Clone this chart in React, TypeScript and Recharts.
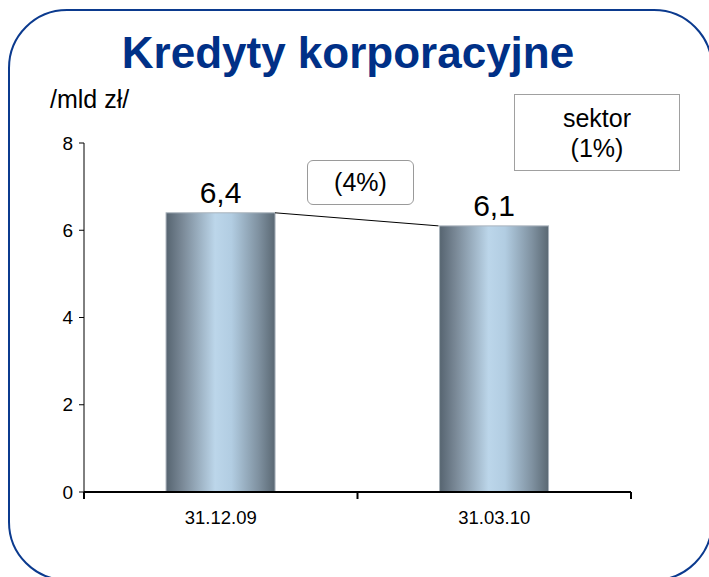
import { Bar, BarChart, LabelList, XAxis, YAxis } from "recharts";

const kategorie = ["31.12.09", "31.03.10"];
const wartosci = [6.4, 6.1];
const osY = [0, 2, 4, 6, 8];
const zmiana = "(4%)";
const sektor = ["sektor", "(1%)"];

const dane = kategorie.map((data, i) => ({ data, wartosc: wartosci[i] }));

const LUKA = 0.3;
const FONT = "'Liberation Sans', Arial, sans-serif";

function formatuj(v: number): string {
  return v.toFixed(1).replace(".", ",");
}

function Slupek(props: any) {
  const { x, y, width, height, index } = props;
  const krok = width / (1 - 2 * LUKA);
  const nastepna = wartosci[index + 1];
  return (
    <g>
      <rect x={x} y={y} width={width} height={height} fill="url(#walec)" stroke="#a9b3bc" strokeWidth={1} />
      {nastepna !== undefined && (
        <line
          x1={x + width}
          y1={y}
          x2={x + krok}
          y2={y + height - (nastepna / wartosci[index]) * height}
          stroke="#000"
          strokeWidth={1}
        />
      )}
    </g>
  );
}

function TickX(props: any) {
  const { x, y, payload, index } = props;
  const pol = payload.offset ?? 136.75;
  return (
    <g>
      <line x1={x + pol} y1={y} x2={x + pol} y2={y + 7} stroke="#000" strokeWidth={2} />
      {index === 0 && <line x1={x - pol} y1={y} x2={x - pol} y2={y + 7} stroke="#000" strokeWidth={2} />}
      <text x={x} y={y + 32} textAnchor="middle" fontSize={18.5} fontFamily={FONT} fill="#000">
        {payload.value}
      </text>
    </g>
  );
}

export default function App() {
  return (
    <div style={{ position: "absolute", left: 0, top: 0, width: 709, height: 577, overflow: "hidden", background: "#fff" }}>
      <svg width={709} height={577} style={{ position: "absolute", left: 0, top: 0 }}>
        <rect x={9} y={10} width={703} height={570} rx={58} ry={58} fill="none" stroke="#0b3a8e" strokeWidth={2} />
        <text x={348} y={68} textAnchor="middle" fontSize={44} fontWeight="bold" fontFamily={FONT} fill="#003087">
          Kredyty korporacyjne
        </text>
        <text x={50} y={108} fontSize={25} fontFamily={FONT} fill="#000">
          /mld zł/
        </text>
      </svg>

      <BarChart
        width={709}
        height={577}
        data={dane}
        margin={{ top: 143, right: 78, bottom: 55, left: 30 }}
        barCategoryGap={`${LUKA * 100}%`}
        style={{ position: "absolute", left: 0, top: 0 }}
      >
        <defs>
          <linearGradient id="walec" x1="0" y1="0" x2="1" y2="0">
            <stop offset="0%" stopColor="#566470" />
            <stop offset="15%" stopColor="#7a8997" />
            <stop offset="45%" stopColor="#bcd6ea" />
            <stop offset="60%" stopColor="#b2cde2" />
            <stop offset="85%" stopColor="#7f91a0" />
            <stop offset="100%" stopColor="#5a6873" />
          </linearGradient>
        </defs>
        <XAxis
          dataKey="data"
          height={30}
          axisLine={{ stroke: "#000", strokeWidth: 2 }}
          tickLine={false}
          tickSize={0}
          tickMargin={0}
          tick={<TickX />}
          interval={0}
        />
        <YAxis
          width={54}
          domain={[0, 8]}
          ticks={osY}
          interval={0}
          axisLine={{ stroke: "#000", strokeWidth: 1 }}
          tickLine={{ stroke: "#000" }}
          tickSize={5}
          tickMargin={6}
          tick={{ fontSize: 19, fontFamily: FONT, fill: "#000" }}
        />
        <Bar dataKey="wartosc" shape={<Slupek />} isAnimationActive={false}>
          <LabelList
            dataKey="wartosc"
            position="top"
            offset={10}
            formatter={(v: any) => formatuj(Number(v))}
            style={{ fontSize: 30, fontFamily: FONT, fill: "#000" }}
          />
        </Bar>
      </BarChart>

      <div
        style={{
          position: "absolute",
          left: 307,
          top: 160,
          width: 105,
          height: 43,
          border: "1.5px solid #9a9a9a",
          borderRadius: 6,
          fontFamily: FONT,
          fontSize: 25,
          display: "flex",
          alignItems: "center",
          justifyContent: "center",
          background: "#fff",
        }}
      >
        {zmiana}
      </div>

      <div
        style={{
          position: "absolute",
          left: 514,
          top: 94,
          width: 164,
          height: 75,
          border: "1.5px solid #a0a0a0",
          fontFamily: FONT,
          fontSize: 25,
          lineHeight: "30px",
          display: "flex",
          flexDirection: "column",
          alignItems: "center",
          justifyContent: "center",
          background: "#fff",
        }}
      >
        {sektor.map((t) => (
          <span key={t}>{t}</span>
        ))}
      </div>
    </div>
  );
}
